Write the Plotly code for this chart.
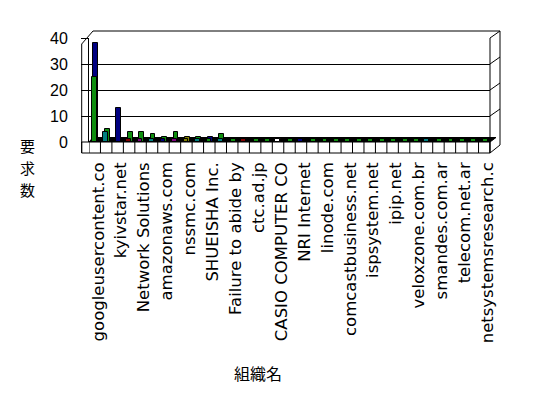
import plotly.graph_objects as go

# ---- data ----
tick_labels = ["googleusercontent.co", "kyivstar.net", "Network Solutions", "amazonaws.com",
               "nssmc.com", "SHUEISHA Inc.", "Failure to abide by", "ctc.ad.jp",
               "CASIO COMPUTER CO", "NRI Internet", "linode.com", "comcastbusiness.net",
               "ispsystem.net", "ipip.net", "veloxzone.com.br", "smandes.com.ar",
               "telecom.net.ar", "netsystemsresearch.c"]
n_categories = 35
categories = list(range(1, n_categories + 1))

back_values = [38, 5, 13, 4, 4, 3, 2, 4, 2, 2, 2, 3, 1, 1, 1, 1, 1, 1, 1, 1,
               1, 1, 1, 1, 1, 1, 1, 1, 1, 1, 1, 1, 1, 1, 1]
back_colors = ["navy", "green", "navy", "green", "green", "green", "green", "green",
               "olive", "green", "navy", "green", "green", "green", "green", "green",
               "olive", "green", "green", "green", "green", "green", "green", "green",
               "green", "green", "green", "green", "green", "green", "green", "green",
               "green", "green", "green"]
front_values = [25, 4, 0, 1, 1, 1, 1, 1, 1, 1, 1, 1, 0, 1, 0, 0, 1, 0, 1, 0,
                0, 0, 0, 0, 0, 0, 0, 0, 0, 1, 0, 0, 0, 0, 0]
front_colors = ["green", "teal", "navy", "darkred", "purple", "teal", "navy", "purple",
                "olive", "teal", "green", "teal", "green", "darkred", "green", "green",
                "white", "green", "navy", "green", "green", "green", "green", "green",
                "green", "green", "green", "green", "green", "teal", "green", "green",
                "green", "green", "green"]
y_ticks = [0, 10, 20, 30, 40]
y_title_chars = ["要", "求", "数"]
x_title = "組織名"

palette = {"navy": "#000080", "green": "#0f8f0f", "teal": "#008080", "darkred": "#800000",
           "purple": "#800080", "olive": "#808000", "white": "#ffffff"}

# ---- geometry (pixels) ----
W, H = 548, 398
L, R, T, B = 89, 490, 38, 142


def px(x):
    return (x - L) / (R - L)


def py(y):
    return (B - y) / (B - T)


fig = go.Figure()
fig.add_trace(go.Bar(x=categories, y=back_values,
                     marker=dict(color=[palette[c] for c in back_colors],
                                 line=dict(color="black", width=1)),
                     offset=-0.12, width=0.42, showlegend=False))
fig.add_trace(go.Bar(x=categories, y=front_values,
                     marker=dict(color=[palette[c] for c in front_colors],
                                 line=dict(color="black", width=1)),
                     offset=-0.24, width=0.4, showlegend=False))

shapes = []
line = dict(color="black", width=1)
# floor black band
shapes.append(dict(type="path", xref="paper", yref="paper", layer="below",
                   path=f"M {px(89)} {py(142)} L {px(490)} {py(142)} L {px(496)} {py(137.5)} L {px(93)} {py(137.5)} Z",
                   fillcolor="black", line=dict(color="black", width=1)))
# floor front strip
shapes.append(dict(type="rect", xref="paper", yref="paper",
                   x0=px(81.7), x1=px(490), y0=py(153), y1=py(142),
                   fillcolor="white", line=line))
for k in range(n_categories + 1):
    shapes.append(dict(type="line", xref="x", yref="paper", x0=k + 0.5, x1=k + 0.5,
                       y0=py(153), y1=py(142), line=line))
# left wall
shapes.append(dict(type="line", xref="paper", yref="paper", x0=px(81.7), x1=px(81.7),
                   y0=py(153), y1=py(44), line=line))
shapes.append(dict(type="line", xref="paper", yref="paper", x0=px(81.7), x1=px(93),
                   y0=py(44), y1=py(31), line=line))
# top edge
shapes.append(dict(type="line", xref="paper", yref="paper", x0=px(93), x1=px(500),
                   y0=py(31), y1=py(31), line=line))
# right side
shapes.append(dict(type="line", xref="paper", yref="paper", x0=px(490), x1=px(490),
                   y0=py(153), y1=py(38), line=line))
shapes.append(dict(type="line", xref="paper", yref="paper", x0=px(500), x1=px(500),
                   y0=py(145), y1=py(31), line=line))
shapes.append(dict(type="line", xref="paper", yref="paper", x0=px(490), x1=px(500),
                   y0=py(153), y1=py(145), line=line))
for v in y_ticks[1:]:
    shapes.append(dict(type="line", xref="paper", yref="paper", x0=px(490), x1=px(500),
                       y0=v / 40, y1=v / 40 + 7 / (B - T), line=line))

annotations = []
for i, ch in enumerate(y_title_chars):
    annotations.append(dict(text=ch, xref="paper", yref="paper", x=px(27), y=py(145 + 22 * i),
                            showarrow=False, xanchor="center", yanchor="middle",
                            font=dict(family="Noto Sans CJK JP", size=15, color="black")))
annotations.append(dict(text=x_title, xref="paper", yref="paper", x=px(258), y=py(373),
                        showarrow=False, xanchor="center", yanchor="middle",
                        font=dict(family="Noto Sans CJK JP", size=16, color="black")))

fig.update_layout(
    width=W, height=H,
    margin=dict(l=L, r=W - R, t=T, b=H - B, pad=0),
    paper_bgcolor="white", plot_bgcolor="white",
    barmode="overlay", bargap=0,
    shapes=shapes,
    annotations=annotations,
    xaxis=dict(range=[0.5, n_categories + 0.5], tickvals=[c + 0.3 for c in categories[::2]],
               ticktext=tick_labels,
               tickangle=-90, showgrid=False, zeroline=False, showline=False, ticks="",
               ticklabelstandoff=16,
               tickfont=dict(family="DejaVu Sans, Noto Sans CJK JP", size=16.5, color="black")),
    yaxis=dict(range=[0, 40], tickvals=y_ticks, showgrid=True, gridcolor="black", gridwidth=1,
               zeroline=False, showline=True, linecolor="black", linewidth=1,
               ticks="outside", ticklen=7, tickcolor="black", ticklabelstandoff=10,
               tickfont=dict(family="Liberation Sans, Arial", size=16, color="black")),
)

fig.write_html("out.html", config={"displayModeBar": False},
               post_script=["document.body.style.margin='0px';"])
